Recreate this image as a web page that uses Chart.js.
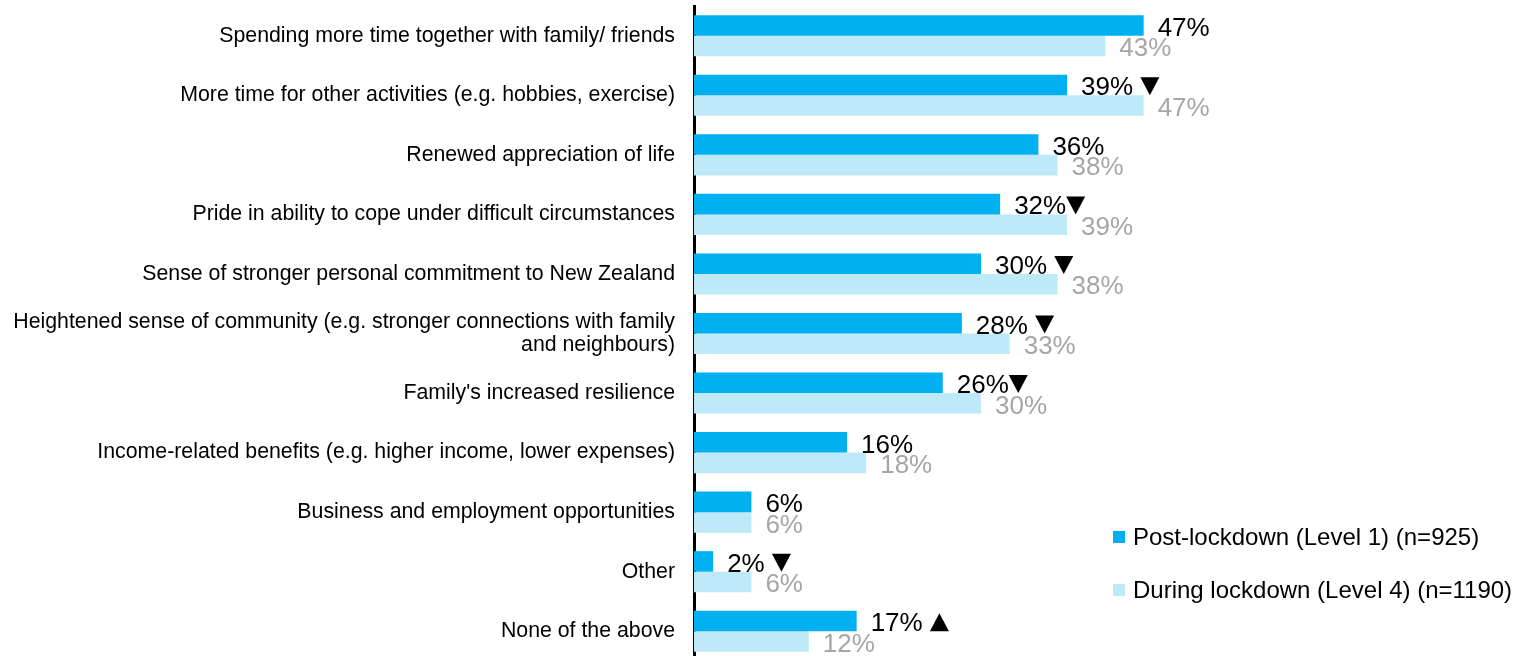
<!DOCTYPE html>
<html>
<head>
<meta charset="utf-8">
<script src="https://cdn.jsdelivr.net/npm/chart.js@4"></script>
<style>
  html, body { margin: 0; padding: 0; background: #fff; overflow: hidden; }
  canvas { display: block; }
</style>
</head>
<body>
<canvas id="grafico" width="1516" height="661"></canvas>
<script>
// datos
const categorias = [
  'Spending more time together with family/ friends',
  'More time for other activities (e.g. hobbies, exercise)',
  'Renewed appreciation of life',
  'Pride in ability to cope under difficult circumstances',
  'Sense of stronger personal commitment to New Zealand',
  ['Heightened sense of community (e.g. stronger connections with family', 'and neighbours)'],
  "Family's increased resilience",
  'Income-related benefits (e.g. higher income, lower expenses)',
  'Business and employment opportunities',
  'Other',
  'None of the above'
];
const postLockdown = [47, 39, 36, 32, 30, 28, 26, 16, 6, 2, 17];
const duranteLockdown = [43, 47, 38, 39, 38, 33, 30, 18, 6, 6, 12];
// flechas de cambio significativo (espacio = separado del numero)
const flechas = ['', ' ▼', '', '▼', ' ▼', ' ▼', '▼', '', '', ' ▼', ' ▲'];
const nombresSeries = ['Post-lockdown (Level 1) (n=925)', 'During lockdown (Level 4) (n=1190)'];

const FUENTE = "'Liberation Sans', Arial, sans-serif";

const etiquetasValores = {
  id: 'etiquetasValores',
  afterDatasetsDraw(chart) {
    const ctx = chart.ctx;
    ctx.save();
    ctx.font = '26px ' + FUENTE;
    ctx.textAlign = 'left';
    ctx.textBaseline = 'alphabetic';
    chart.data.datasets.forEach(function(ds, i) {
      const meta = chart.getDatasetMeta(i);
      meta.data.forEach(function(barra, j) {
        const texto = ds.data[j] + '%';
        const x = barra.x + 14;
        const y = barra.y + barra.height / 2;
        ctx.fillStyle = i === 0 ? '#000000' : '#a6a6a6';
        ctx.fillText(texto, x, y);
        if (i === 0 && flechas[j]) {
          let ax = x + ctx.measureText(texto).width;
          if (flechas[j].charAt(0) === ' ') ax += ctx.measureText(' ').width;
          ctx.fillStyle = '#000000';
          ctx.beginPath();
          if (flechas[j].indexOf('▼') >= 0) {
            ctx.moveTo(ax, y - 18);
            ctx.lineTo(ax + 19, y - 18);
            ctx.lineTo(ax + 9.5, y);
          } else {
            ctx.moveTo(ax, y);
            ctx.lineTo(ax + 19, y);
            ctx.lineTo(ax + 9.5, y - 18);
          }
          ctx.closePath();
          ctx.fill();
        }
      });
    });
    ctx.restore();
  }
};

const leyenda = {
  id: 'leyenda',
  afterDraw(chart) {
    const ctx = chart.ctx;
    ctx.save();
    ctx.font = '24px ' + FUENTE;
    ctx.textBaseline = 'middle';
    ctx.textAlign = 'left';
    const filas = [537, 590];
    chart.data.datasets.forEach(function(ds, i) {
      ctx.fillStyle = ds.backgroundColor;
      ctx.fillRect(1113, filas[i] - 6, 12, 12);
      ctx.fillStyle = '#000000';
      ctx.fillText(ds.label, 1133, filas[i] + 1);
    });
    ctx.restore();
  }
};

new Chart(document.getElementById('grafico'), {
  type: 'bar',
  data: {
    labels: categorias,
    datasets: [
      { label: nombresSeries[0], data: postLockdown, backgroundColor: '#00b0f0' },
      { label: nombresSeries[1], data: duranteLockdown, backgroundColor: '#bde9f9' }
    ]
  },
  options: {
    indexAxis: 'y',
    responsive: false,
    animation: false,
    categoryPercentage: 0.69,
    barPercentage: 1.0,
    layout: { padding: { top: 6, right: 248, bottom: 0, left: 0 } },
    plugins: {
      legend: { display: false },
      tooltip: { enabled: false }
    },
    scales: {
      x: {
        display: false,
        min: 0,
        max: 60
      },
      y: {
        afterFit: function(scale) {
          scale.width = 694;
          scale.paddingTop = 0;
          scale.paddingBottom = 0;
        },
        grid: { display: false, drawTicks: false },
        border: { display: true, color: '#000000', width: 3 },
        ticks: {
          color: '#000000',
          padding: 19,
          font: { family: FUENTE, size: 21.3, lineHeight: 1.1 }
        }
      }
    }
  },
  plugins: [etiquetasValores, leyenda]
});
</script>
</body>
</html>
